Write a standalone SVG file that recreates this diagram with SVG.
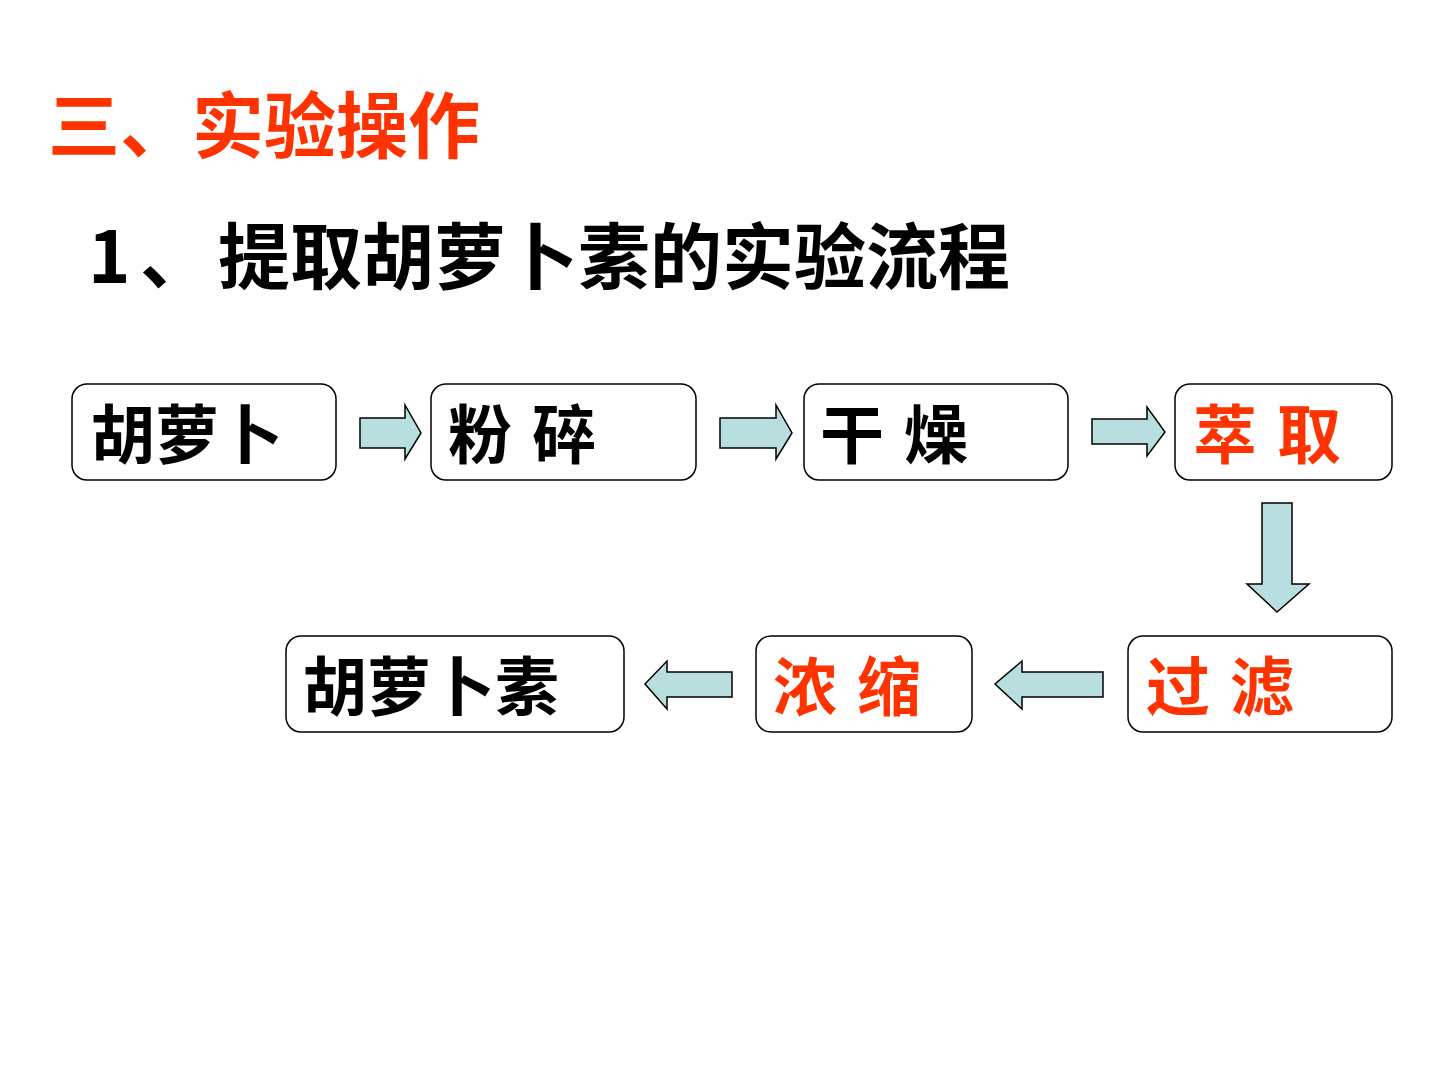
<svg xmlns="http://www.w3.org/2000/svg" width="1440" height="1080" viewBox="0 0 1440 1080">
<style>
.t{font-family:"Noto Sans CJK SC","Noto Sans",sans-serif;font-weight:700}
.red{fill:#FF3300}
.blk{fill:#000}
.box{fill:#fff;stroke:#000;stroke-width:1.5}
.arr{fill:#B9DEE0;stroke:#000;stroke-width:1.5;stroke-linejoin:miter}
</style>
<rect width="1440" height="1080" fill="#fff"/>
<text class="t red" x="48" y="152" font-size="72">三、实验操作</text>
<text class="t blk" x="88 140 218" y="283" font-size="72">1、提取胡萝卜素的实验流程</text>
<g id="connectors">
<polygon class="arr" points="360,418 405,418 405,405 421,433 405,459 405,448 360,448"/>
<polygon class="arr" points="720,418 776,418 776,405 792,433 776,459 776,448 720,448"/>
<polygon class="arr" points="1092,419 1147,419 1147,407 1165,432 1147,456 1147,444 1092,444"/>
<polygon class="arr" points="1262,503 1292,503 1292,584 1309,584 1277,612 1247,584 1262,584"/>
<polygon class="arr" points="1103,672 1022,672 1022,661 995,684 1022,709 1022,697 1103,697"/>
<polygon class="arr" points="732,672 667,672 667,661 645,684 667,709 667,697 732,697"/>
</g>
<g id="n1"><rect class="box" x="72" y="384" width="264" height="96" rx="15"/><text class="t blk" x="91" y="458" font-size="64">胡萝卜</text></g>
<g id="n2"><rect class="box" x="431" y="384" width="265" height="96" rx="15"/><text class="t blk" x="448 512 532" y="458" font-size="64">粉 碎</text></g>
<g id="n3"><rect class="box" x="804" y="384" width="264" height="96" rx="15"/><text class="t blk" x="820 884 904" y="458" font-size="64">干 燥</text></g>
<g id="n4"><rect class="box" x="1175" y="384" width="217" height="96" rx="15"/><text class="t red" x="1193 1257 1277" y="458" font-size="64">萃 取</text></g>
<g id="n5"><rect class="box" x="1128" y="636" width="264" height="96" rx="15"/><text class="t red" x="1146 1210 1230" y="710" font-size="64">过 滤</text></g>
<g id="n6"><rect class="box" x="756" y="636" width="216" height="96" rx="15"/><text class="t red" x="773 837 857" y="710" font-size="64">浓 缩</text></g>
<g id="n7"><rect class="box" x="286" y="636" width="338" height="96" rx="15"/><text class="t blk" x="303" y="710" font-size="64">胡萝卜素</text></g>
</svg>
